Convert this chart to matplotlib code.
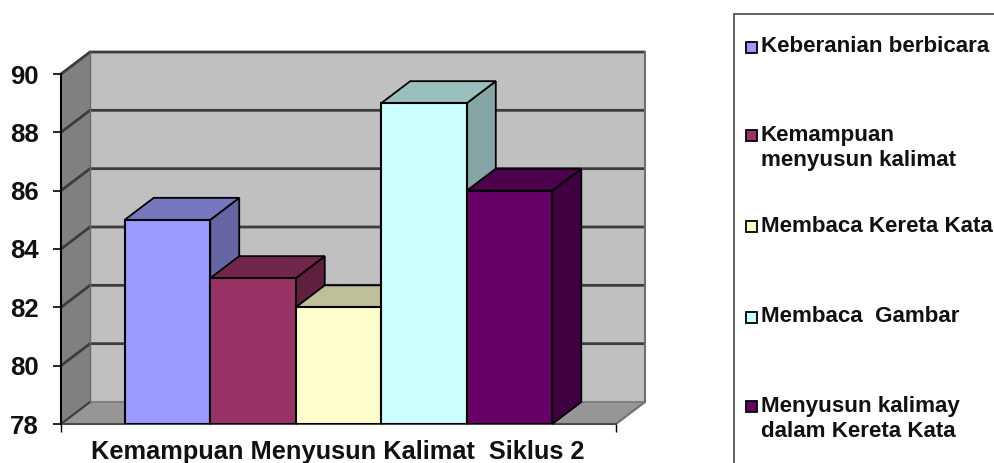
import matplotlib
matplotlib.use('Agg')
from matplotlib import pyplot as plt
from matplotlib.patches import Polygon, Rectangle

plt.rcParams['font.family'] = ['Liberation Sans', 'DejaVu Sans']

W, H = 995, 463

series_names = ['Keberanian berbicara', 'Kemampuan\nmenyusun kalimat', 'Membaca Kereta Kata',
                'Membaca  Gambar', 'Menyusun kalimay\ndalam Kereta Kata']
values = [85, 83, 82, 89, 86]
front_colors = ['#9999ff', '#993366', '#ffffcc', '#ccffff', '#660066']
top_colors = ['#7777bf', '#73264d', '#bfbf99', '#99bfbf', '#4d004d']
side_colors = ['#6666a6', '#5f2040', '#a6a685', '#85a6a6', '#400040']
y_ticks = [78, 80, 82, 84, 86, 88, 90]
x_title = 'Kemampuan Menyusun Kalimat  Siklus 2'
legend_y = [47, 148, 226, 317, 419]

fig = plt.figure(figsize=(W / 100, H / 100), dpi=100)

# front plane of the fake 3d box, in pixels
left, right, top, bottom = 61, 616, 74, 424
ax = fig.add_axes([left / W, 1 - bottom / H, (right - left) / W, (bottom - top) / H])
ax.set_xlim(-1.245, 5.245)
ax.set_ylim(y_ticks[0], y_ticks[-1])
ax.patch.set_visible(False)
for s in ax.spines.values():
    s.set_visible(False)

# depth offset in data units (29 px right, 22 px up)
dx = 29 / (right - left) * 6.49
dy = 22 / (bottom - top) * 12
x0, x1 = ax.get_xlim()
y0, y1 = ax.get_ylim()


def poly(points, face, edge='none', lw=0, z=1):
    ax.add_patch(Polygon(points, closed=True, facecolor=face, edgecolor=edge,
                         linewidth=lw, zorder=z, clip_on=False))


# walls and floor
poly([(x0, y0), (x0 + dx, y0 + dy), (x0 + dx, y1 + dy), (x0, y1)], '#808080')
poly([(x0 + dx, y0 + dy), (x1 + dx, y0 + dy), (x1 + dx, y1 + dy), (x0 + dx, y1 + dy)], '#c0c0c0')
poly([(x0, y0), (x1, y0), (x1 + dx, y0 + dy), (x0 + dx, y0 + dy)], '#969696')

# gridlines across side wall and back wall
grid = '#3c3c3c'
for t in y_ticks:
    if t == y_ticks[0]:
        ax.plot([x0 + dx, x1 + dx], [t + dy, t + dy], color='#808080', lw=1.5, zorder=2, clip_on=False)
        ax.plot([x0, x0 + dx], [t, t + dy], color=grid, lw=1.5, zorder=2, clip_on=False)
        continue
    ax.plot([x0, x0 + dx, x1 + dx], [t, t + dy, t + dy], color=grid, lw=2, zorder=2,
            solid_joinstyle='miter', solid_capstyle='butt', clip_on=False)

# back wall edges
ax.plot([x0 + dx, x0 + dx], [y0 + dy, y1 + dy], color='#6a6a6a', lw=1, zorder=2, clip_on=False)
ax.plot([x1 + dx, x1 + dx, x1], [y1 + dy, y0 + dy, y0], color='#707070', lw=1.5, zorder=2, clip_on=False)

# axis lines
ax.plot([x0, x1], [y0, y0], color='#4a4a4a', lw=1.5, zorder=3, clip_on=False)
ax.plot([x0, x0], [y0, y1], color='black', lw=1.5, zorder=3, clip_on=False)

# bars, left to right so each one paints over the side of the one before
for i, v in enumerate(values):
    a, b = i - 0.5, i + 0.5
    z = 4 + i
    poly([(b, y0), (b + dx, y0 + dy), (b + dx, v + dy), (b, v)], side_colors[i], 'black', 1.3, z)
    poly([(a, v), (b, v), (b + dx, v + dy), (a + dx, v + dy)], top_colors[i], 'black', 1.3, z)
    ax.bar(i, v - y0, width=1, bottom=y0, color=front_colors[i], edgecolor='black', linewidth=1.5, zorder=z)

ax.set_yticks(y_ticks)
ax.set_yticklabels([str(t) for t in y_ticks], fontsize=18.5, fontweight='bold', color='#111111',
                   va='center_baseline')
ax.tick_params(axis='y', length=6, width=1.2, color='black', pad=10)
ax.set_xticks([x0, x1])
ax.set_xticklabels([])
ax.tick_params(axis='x', length=6, width=1, color='black')
fig.text(338 / W, 1 - 452 / H, x_title, fontsize=18.3, fontweight='bold', color='#111111',
         ha='center', va='center')

# legend box runs off the right and bottom of the picture
fig.add_artist(Rectangle((734 / W, -0.1), 0.5, 1.1 - 14 / H, transform=fig.transFigure,
                         facecolor='white', edgecolor='#555555', linewidth=1.3))
for name, color, ly in zip(series_names, front_colors, legend_y):
    first_line_y = ly if '\n' not in name else ly - 13
    fig.add_artist(Rectangle((746 / W, 1 - (first_line_y + 6) / H), 11 / W, 11 / H, transform=fig.transFigure,
                             facecolor=color, edgecolor='black', linewidth=1.3))
    fig.text(761 / W, 1 - ly / H, name, fontsize=16.1, fontweight='bold', color='#111111',
             va='center', ha='left', linespacing=1.24)

fig.savefig('out.png', dpi=100)
